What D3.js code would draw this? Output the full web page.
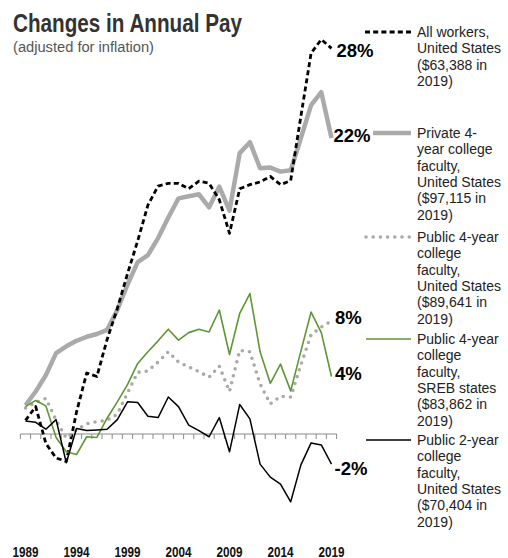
<!DOCTYPE html>
<html>
<head>
<meta charset="utf-8">
<script src="https://cdn.jsdelivr.net/npm/d3@7"></script>
<style>
  html, body { margin: 0; padding: 0; background: #fff; }
  svg { display: block; }
</style>
</head>
<body>
<svg id="chart" width="508" height="558"></svg>
<script>
const years = d3.range(1989, 2020);
const tickYears = [1989, 1994, 1999, 2004, 2009, 2014, 2019];

const allWorkers = [1.0, 2.0, -0.7, -1.75, -2.0, 1.6, 4.45, 4.2, 6.9, 9.15, 11.7, 14.1, 16.7, 18.1, 18.3, 18.3, 17.9, 18.45, 18.3, 17.1, 14.65, 17.9, 18.2, 18.4, 18.8, 18.2, 18.5, 23.2, 27.8, 28.8, 28.15];
const private4 = [2.1, 3.1, 4.3, 5.9, 6.4, 6.8, 7.1, 7.3, 7.6, 9.05, 10.9, 12.55, 13.05, 14.3, 15.8, 17.2, 17.35, 17.5, 16.55, 18.05, 16.3, 20.5, 21.3, 19.4, 19.45, 19.15, 19.25, 21.6, 24.0, 24.95, 21.6];
const public4US = [1.9, 2.3, 2.6, 1.0, -0.3, 0.3, 0.75, 0.9, 1.0, 1.45, 3.0, 4.5, 4.6, 5.25, 6.0, 5.25, 4.9, 4.55, 4.15, 4.95, 3.1, 6.1, 6.0, 3.65, 2.2, 2.75, 2.7, 5.05, 7.25, 7.8, 8.25];
const public4SREB = [2.0, 2.45, 2.05, -0.25, -1.3, -1.5, -0.2, -0.25, 1.15, 2.35, 3.6, 5.15, 6.0, 6.8, 7.65, 6.85, 7.4, 7.65, 7.45, 9.05, 5.8, 8.8, 10.25, 6.0, 3.7, 5.1, 3.15, 6.05, 8.9, 7.4, 4.2];
const public2US = [0.95, 0.85, 0.35, 1.05, -2.1, 0.4, 0.25, 0.3, 0.35, 1.05, 2.35, 2.3, 1.3, 1.2, 2.7, 2.0, 0.65, 0.25, -0.2, 1.2, -1.3, 2.15, 1.1, -2.2, -3.15, -3.65, -4.95, -2.25, -0.65, -0.8, -2.2];

const seriesNames = [
  ["All workers,", "United States", "($63,388 in", "2019)"],
  ["Private 4-", "year college", "faculty,", "United States", "($97,115 in", "2019)"],
  ["Public 4-year", "college", "faculty,", "United States", "($89,641 in", "2019)"],
  ["Public 4-year", "college", "faculty,", "SREB states", "($83,862 in", "2019)"],
  ["Public 2-year", "college", "faculty,", "United States", "($70,404 in", "2019)"]
];
const endLabels = ["28%", "22%", "8%", "4%", "-2%"];

const styles = [
  { color: "#000", width: 2.8, dash: "5,3.2", cap: "butt", legendY: 32, legendX1: 365, labelDx: 5, labelDy: 8.5 },
  { color: "#aaaaaa", width: 4.5, dash: null, cap: "butt", legendY: 133, legendX1: 373, labelDx: 2, labelDy: 3.5 },
  { color: "#a9a9a9", width: 3.6, dash: "0,7.2", cap: "round", legendY: 237, legendX1: 366, labelDx: 3.5, labelDy: 3 },
  { color: "#5e9535", width: 1.6, dash: null, cap: "butt", legendY: 339, legendX1: 366, labelDx: 3.5, labelDy: 3.5 },
  { color: "#000", width: 1.5, dash: null, cap: "butt", legendY: 440, legendX1: 366, labelDx: 3, labelDy: 11 }
];
const seriesValues = [allWorkers, private4, public4US, public4SREB, public2US];

const svg = d3.select("#chart");

const x = d3.scaleBand().domain(years).range([20.4, 336.6]).paddingInner(0).paddingOuter(0);
const y = d3.scaleLinear().domain([-8, 30]).range([434 + 8 * 13.7, 434 - 30 * 13.7]);
const cx = d => x(d) + x.bandwidth() / 2;

const sans = "'Liberation Sans', Arial, Helvetica, sans-serif";

// Title
svg.append("text")
  .attr("x", 13).attr("y", 32)
  .attr("font-family", sans)
  .attr("font-weight", "bold").attr("font-size", 25)
  .attr("fill", "#333")
  .attr("textLength", 229).attr("lengthAdjust", "spacingAndGlyphs")
  .text("Changes in Annual Pay");
svg.append("text")
  .attr("x", 13).attr("y", 52)
  .attr("font-family", sans)
  .attr("font-size", 15.5)
  .attr("fill", "#555")
  .attr("textLength", 141).attr("lengthAdjust", "spacingAndGlyphs")
  .text("(adjusted for inflation)");

// Axis at zero
const axisG = svg.append("g").attr("transform", `translate(0,${y(0)})`);
axisG.append("line").attr("x1", 20.4).attr("x2", 336.6).attr("stroke", "#8c8c8c").attr("stroke-width", 1.2);
const boundaries = years.map(d => x(d)).concat([x(years[years.length - 1]) + x.bandwidth()]);
axisG.selectAll("line.tick").data(boundaries).enter().append("line")
  .attr("class", "tick")
  .attr("x1", d => d).attr("x2", d => d)
  .attr("y1", 0).attr("y2", 5)
  .attr("stroke", "#8c8c8c").attr("stroke-width", 1);

// Year labels
svg.append("g").selectAll("text").data(tickYears).enter().append("text")
  .attr("x", d => cx(d)).attr("y", 556.5)
  .attr("text-anchor", "middle")
  .attr("font-family", sans)
  .attr("font-weight", "bold").attr("font-size", 14)
  .attr("fill", "#111")
  .attr("textLength", 26).attr("lengthAdjust", "spacingAndGlyphs")
  .text(d => d);

// Lines
const line = d3.line().x((d, i) => cx(years[i])).y(d => y(d));
const drawOrder = [1, 0, 2, 3, 4];
drawOrder.forEach(k => {
  const s = styles[k];
  svg.append("path")
    .datum(seriesValues[k])
    .attr("d", line)
    .attr("fill", "none")
    .attr("stroke", s.color)
    .attr("stroke-width", s.width)
    .attr("stroke-linejoin", "round")
    .attr("stroke-linecap", s.cap)
    .attr("stroke-dasharray", s.dash);
});

// End labels
endLabels.forEach((t, k) => {
  const s = styles[k];
  const vals = seriesValues[k];
  svg.append("text")
    .attr("x", cx(years[years.length - 1]) + s.labelDx)
    .attr("y", y(vals[vals.length - 1]) + s.labelDy)
    .attr("font-family", sans)
    .attr("font-weight", "bold").attr("font-size", 18.5)
    .attr("fill", "#000")
    .text(t);
});

// Legend
const legendTextX = 417;
const lineH = 16.3;
seriesNames.forEach((lines, k) => {
  const s = styles[k];
  svg.append("line")
    .attr("x1", s.legendX1).attr("x2", 411)
    .attr("y1", s.legendY).attr("y2", s.legendY)
    .attr("stroke", s.color)
    .attr("stroke-width", s.width)
    .attr("stroke-linecap", s.cap)
    .attr("stroke-dasharray", s.dash);
  const t = svg.append("text")
    .attr("font-family", sans)
    .attr("font-size", 14)
    .attr("fill", "#222");
  lines.forEach((ln, j) => {
    t.append("tspan").attr("x", legendTextX).attr("y", s.legendY + 5 + j * lineH).text(ln);
  });
});
</script>
</body>
</html>
